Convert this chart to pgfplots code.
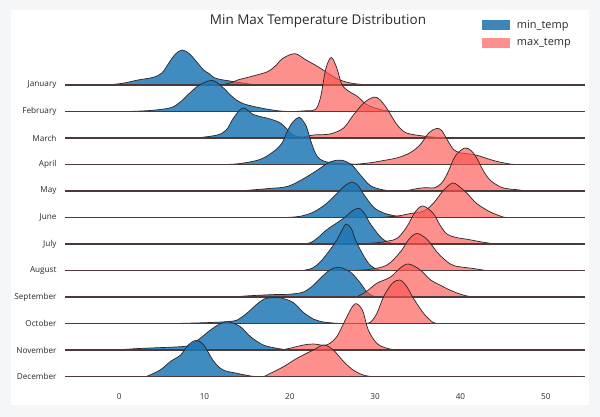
\documentclass[border=0pt]{standalone}
\usepackage{fontspec}
\setmainfont{Open Sans}
\usepackage{pgfplots}
\pgfplotsset{compat=1.18}
\definecolor{minC}{HTML}{1F77B4}
\definecolor{maxC}{RGB}{252,85,80}
\definecolor{maxLeg}{RGB}{253,143,140}
\definecolor{minLeg}{RGB}{63,133,184}
\definecolor{lineC}{HTML}{2E2424}
\definecolor{baseC}{HTML}{4A3A3A}
\definecolor{bgouter}{HTML}{F4F6F8}
\definecolor{textC}{HTML}{2A2A2A}
\pgfplotsset{
  minf/.style={fill=minC, fill opacity=0.85, draw=lineC, line width=0.7bp, smooth, tension=0.55, forget plot},
  maxf/.style={fill=maxC, fill opacity=0.65, draw=lineC, line width=0.7bp, smooth, tension=0.55, forget plot},
}
\newcommand{\base}[1]{%
  \addplot[forget plot, draw=baseC, line width=1.1bp] coordinates {(-6.35,#1) (54.6,#1)};
}
\begin{document}
\begin{tikzpicture}
\fill[bgouter] (0bp,0bp) rectangle (600bp,417bp);
\fill[white] (11bp,12bp) rectangle (589bp,407bp);
\node[text=textC, font=\fontsize{13.5}{15}\selectfont] at (318bp,396bp) {Min Max Temperature Distribution};
\begin{axis}[
  at={(65bp,27.25bp)}, anchor=south west,
  width=520bp, height=344.5bp, scale only axis,
  xmin=-6.35, xmax=54.6, ymin=-0.5, ymax=12.5,
  axis line style={draw=none}, tick style={draw=none},
  xtick={0,10,20,30,40,50},
  ytick={0,1,2,3,4,5,6,7,8,9,10,11},
  yticklabels={December,November,October,September,August,July,June,May,April,March,February,January},
  ticklabel style={font=\fontsize{8.2}{9}\selectfont, text=textC},
  yticklabel style={xshift=-5bp},
  /pgf/number format/assume math mode=true,
  clip=false,
  legend style={draw=none, fill=none, at={(axis description cs:0.795,1.085)}, anchor=north west,
    font=\fontsize{11}{13}\selectfont, text=textC, row sep=5bp, column sep=6bp},
  legend cell align=left,
]
\addlegendimage{legend image code/.code={\fill[minLeg] (0bp,-4.5bp) rectangle (27bp,4.5bp);}}
\addlegendentry{min\_temp}
\addlegendimage{legend image code/.code={\fill[maxLeg] (0bp,-4.5bp) rectangle (27bp,4.5bp);}}
\addlegendentry{max\_temp}

% January (11)
\addplot[minf] table[y expr=\thisrow{h}/26.5+11] {
x h
-1.5 0
0.4 1.7
2.2 5
4.0 7.7
5.0 12
5.8 21.7
6.6 31
7.4 35
8.2 31.5
8.9 25
9.9 15
10.5 11.7
11.1 7.5
12.1 5.2
13.9 2.8
15.4 0.8
16.5 0
};
\addplot[maxf] table[y expr=\thisrow{h}/26.5+11] {
x h
12.0 0
13.2 2.5
13.9 5
15.7 9
17.4 13.3
18.3 19
19.2 26.7
20.6 31.3
21.9 25
23.3 18.3
25.1 8.3
26.2 4
27.3 1.7
28.5 0.5
30 0
};
\base{11}
% February (10)
\addplot[minf] table[y expr=\thisrow{h}/26.5+10] {
x h
1.0 0
3.6 1
6.0 3.7
7.2 9.7
8.3 18.7
9.5 27
10.9 31
12.0 25.3
13.4 13.7
14.6 7.7
16.5 3.7
18.5 0.8
20 0
};
\addplot[maxf] table[y expr=\thisrow{h}/26.5+10] {
x h
20.5 0
22.0 0.8
23.0 2
23.6 14
24.2 42
24.85 54
25.5 43.7
26.1 27
26.9 20.3
27.9 15.3
29.0 7
30.6 2
32.1 0
};
\base{10}
% March (9)
\addplot[minf] table[y expr=\thisrow{h}/26.5+9] {
x h
9.0 0
11.5 3
12.6 8.5
13.4 20
14.5 30
15.7 23.5
16.5 21.5
17.7 19
18.9 15
19.7 8.5
20.4 3
21.6 0.5
23 0
};
\addplot[maxf] table[y expr=\thisrow{h}/26.5+9] {
x h
21.0 0
22.8 3
24.7 4
26.3 10
27.5 23.5
28.8 36
30.1 40.8
31.2 31.8
31.8 23.5
32.7 11.8
33.7 5
35.6 2
38 0
};
\base{9}
% April (8)
\addplot[minf] table[y expr=\thisrow{h}/26.5+8] {
x h
12.5 0
14.2 1
16.5 5
18.1 13
19.1 21.7
19.8 35
20.4 43
21.1 47.3
21.6 43
22.0 36.7
22.6 20
23.2 8.3
24.0 3.3
25.5 1.3
27.1 0.5
28.5 0
};
\addplot[maxf] table[y expr=\thisrow{h}/26.5+8] {
x h
27.5 0
29.4 1.7
31 4
32.6 6.7
34.1 11.7
35.3 20
36.3 31.7
37.2 36
37.8 34
38.5 24
39.2 15
40 11.7
41.5 10
42.3 8.3
43.3 5.5
44.3 3
45.8 0.5
46.5 0
};
\base{8}
% May (7)
\addplot[minf] table[y expr=\thisrow{h}/26.5+7] {
x h
14.0 0
17.3 2.3
19.7 4.5
21.6 12.3
23.2 20.7
24.7 29
26.1 30.7
27.3 25.7
28.3 15.7
29.4 5.7
30.6 1.7
32 0
};
\addplot[maxf] table[y expr=\thisrow{h}/26.5+7] {
x h
33.5 0
35.0 2.5
35.9 3.3
37.0 3.3
37.8 8
38.5 18
39.4 35
40.5 43
41.3 40
41.9 33
42.7 20
43.5 10.7
44.7 4
45.5 2.3
46.6 1.3
47.8 0
};
\base{7}
% June (6)
\addplot[minf] table[y expr=\thisrow{h}/26.5+6] {
x h
19.5 0
21.2 1.2
22.8 5.5
24.3 14
25.5 23.9
26.5 32
27.3 35.5
28.0 32
28.6 24
29.8 10.5
31 4.5
32.6 1.2
33.5 0
};
\addplot[maxf] table[y expr=\thisrow{h}/26.5+6] {
x h
30.5 0
32.6 1.5
34.1 3.9
35.7 6.5
36.8 14
38 27
39.1 34.5
40.0 30
40.8 24
41.9 14
43.5 5.5
45 0.5
45.5 0
};
\base{6}
% July (5)
\addplot[minf] table[y expr=\thisrow{h}/26.5+5] {
x h
21.5 0
22.4 1.3
23.2 5.7
24.3 14
25.5 21
26.5 27
27.3 33
28.1 35.7
28.8 30
29.4 20.7
30.6 7.3
31.4 2.3
32.3 0
};
\addplot[maxf] table[y expr=\thisrow{h}/26.5+5] {
x h
28.5 0
30.5 1.5
31.5 3
32.6 5.7
33.7 17
34.7 32
35.6 38
36.8 30.7
37.6 19
38.4 10
39.5 6.5
40.8 4.7
42.3 2.3
43.5 0.7
44.2 0
};
\base{5}
% August (4)
\addplot[minf] table[y expr=\thisrow{h}/26.5+4] {
x h
21.5 0
22.6 2.2
23.6 8.8
24.7 20.5
25.5 30.5
26.1 40
26.6 46.5
27.2 42
27.7 30.5
28.6 15.5
29.4 5.5
30.2 1.2
31 0
};
\addplot[maxf] table[y expr=\thisrow{h}/26.5+4] {
x h
27.5 0
29.4 1.2
31.4 5.5
33.0 19
33.9 30.5
34.9 37
36.1 31
37.2 19
38.0 12
39.2 5
41.5 2
43 0
};
\base{4}
% September (3)
\addplot[minf] table[y expr=\thisrow{h}/26.5+3] {
x h
13.5 0
14.8 1
17 2
18.5 2.5
20 2.8
21.6 5
22.8 12
23.6 19
24.7 27
25.7 29.7
27.1 25
28.3 13.7
29 5.3
29.8 1
30.5 0
};
\addplot[maxf] table[y expr=\thisrow{h}/26.5+3] {
x h
27.8 0
28.5 3
29.2 7
30.2 13.7
31.8 20
32.9 28.7
33.9 33
35.3 27
36.5 17
37.6 12
38.5 8
39.6 4
40.5 1.5
41.5 0
};
\base{3}
% October (2)
\addplot[minf] table[y expr=\thisrow{h}/26.5+2] {
x h
6.5 0
10.7 1
13.4 2.5
14.3 6
15.2 12
16.1 19
17.0 24.5
18.0 26
19.0 25.5
20.4 21
21.6 11
22.8 4.3
23.6 2
25 0.5
26 0
};
\addplot[maxf] table[y expr=\thisrow{h}/26.5+2] {
x h
28.5 0
29.4 1
30.2 10
31 27
32 40
32.9 43.5
33.7 37
34.5 25
35.7 10
36.8 1
37.5 0
};
\base{2}
% November (1)
\addplot[minf] table[y expr=\thisrow{h}/26.5+1] {
x h
-0.5 0
1 0.8
2.8 1.7
7.2 3.3
8.3 5
9.5 11.7
10.7 20
11.8 26
12.8 28.3
14.2 23.3
15.4 13.3
16.9 5
18.5 1.7
19.8 0
};
\addplot[maxf] table[y expr=\thisrow{h}/26.5+1] {
x h
19 0
20 1.7
21.6 5
22.8 6
24.3 5
25.5 13.3
26.5 30
27.6 46
28.5 40
29.2 20
30.2 6.7
31.4 1.7
32.6 0
};
\base{1}
% December (0)
\addplot[minf] table[y expr=\thisrow{h}/26.5] {
x h
3.2 0
4.8 6.5
6.0 15
7.2 21.5
8.1 31.5
9.0 36
9.9 31.5
11.1 15
12.2 6.5
13.8 3.2
15.4 0.5
16 0
};
\addplot[maxf] table[y expr=\thisrow{h}/26.5] {
x h
17.0 0
17.7 3
19.3 10
20.8 18
22.4 25
23.0 27.5
24.0 31.5
25.1 26.5
26.3 15
27.5 6
28.6 1.5
29.5 0
};
\base{0}
\end{axis}
\end{tikzpicture}
\end{document}
